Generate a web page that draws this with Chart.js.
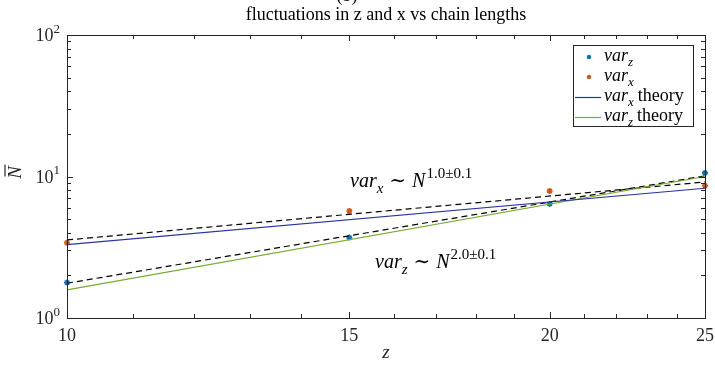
<!DOCTYPE html>
<html>
<head>
<meta charset="utf-8">
<script src="https://cdn.jsdelivr.net/npm/chart.js@4"></script>
<style>
  html, body { margin: 0; padding: 0; background: #fff; }
  #wrap { width: 715px; height: 367px; }
</style>
</head>
<body>
<div id="wrap"><canvas id="chart" width="715" height="367"></canvas></div>
<script>
/* ---- Data ---- */
const chainLengths = [10, 15, 20, 25];
const varZ = [1.78, 3.7, 6.4, 10.6];
const varX = [3.4, 5.7, 7.9, 8.6];

// theory curves and power-law fits (end points at N = 10 and N = 25)
const lineN = [10, 25];
const varXTheory = [3.3, 8.25];
const varZTheory = [1.58, 10.0];
const varXFit = [3.56, 9.15];
const varZFit = [1.76, 10.1];

const xMajorTicks = [10, 15, 20, 25];
const xMinorTicks = [11, 12, 13, 14, 16, 17, 18, 19, 21, 22, 23, 24];
const yMajorTicks = [1, 10, 100];
const yMajorExp = ['0', '1', '2'];
const yMinorTicks = [2, 3, 4, 5, 6, 7, 8, 9, 20, 30, 40, 50, 60, 70, 80, 90];

const BLUE = '#0072BD';
const ORANGE = '#D95319';
const NAVY = '#27359e';
const GREEN = '#77AC30';
const SERIF = '"Liberation Serif", "DejaVu Serif", serif';

const pts = (xs, ys) => xs.map((x, i) => ({ x, y: ys[i] }));

/* ---- Rich text: [text, kind] with kind = i | r | sub | sup | gap ---- */
function fontFor(k, size) {
  const small = Math.round(size * 0.74);
  if (k === 'i') return `italic ${size}px ${SERIF}`;
  if (k === 'sub') return `italic ${small}px ${SERIF}`;
  if (k === 'sup') return `${small}px ${SERIF}`;
  return `${size}px ${SERIF}`;
}
function richWidth(ctx, parts, size) {
  let w = 0;
  parts.forEach(([t, k]) => {
    if (k === 'gap') { w += t; return; }
    ctx.font = fontFor(k, size);
    w += ctx.measureText(t).width;
  });
  return w;
}
function drawRich(ctx, x, y, parts, size, color) {
  ctx.fillStyle = color || '#000';
  ctx.textBaseline = 'alphabetic';
  ctx.textAlign = 'left';
  parts.forEach(([t, k]) => {
    if (k === 'gap') { x += t; return; }
    ctx.font = fontFor(k, size);
    let dy = 0;
    if (k === 'sub') dy = size * 0.28;
    if (k === 'sup') dy = -size * 0.45;
    ctx.fillText(t, x, y + dy);
    x += ctx.measureText(t).width;
  });
  return x;
}

/* ---- Axes box, ticks, labels, legend, annotations ---- */
const matlabAxes = {
  id: 'matlabAxes',
  afterDraw(chart) {
    const { ctx, chartArea: a, scales: { x, y } } = chart;
    ctx.save();

    // box
    ctx.strokeStyle = '#262626';
    ctx.lineWidth = 1;
    ctx.strokeRect(a.left + 0.5, a.top + 0.5, a.right - a.left, a.bottom - a.top);

    // ticks (inward, top/bottom and left/right)
    const tick = (x1, y1, x2, y2) => {
      ctx.beginPath(); ctx.moveTo(x1, y1); ctx.lineTo(x2, y2); ctx.stroke();
    };
    const xt = (v, len) => {
      const px = Math.round(x.getPixelForValue(v)) + 0.5;
      tick(px, a.bottom, px, a.bottom - len);
      tick(px, a.top, px, a.top + len);
    };
    const yt = (v, len) => {
      const py = Math.round(y.getPixelForValue(v)) + 0.5;
      tick(a.left, py, a.left + len, py);
      tick(a.right, py, a.right - len, py);
    };
    xMajorTicks.forEach(v => xt(v, 6));
    xMinorTicks.forEach(v => xt(v, 4));
    yMajorTicks.forEach(v => yt(v, 6));
    yMinorTicks.forEach(v => yt(v, 4));

    // x tick labels
    ctx.fillStyle = '#262626';
    ctx.font = `18px ${SERIF}`;
    ctx.textAlign = 'center';
    ctx.textBaseline = 'alphabetic';
    xMajorTicks.forEach(v => ctx.fillText(String(v), x.getPixelForValue(v), a.bottom + 23));

    // y tick labels 10^n
    yMajorTicks.forEach((v, i) => {
      const parts = [['10', 'r'], [yMajorExp[i], 'sup']];
      const w = richWidth(ctx, parts, 18);
      drawRich(ctx, a.left - 7 - w, y.getPixelForValue(v) + 6, parts, 18, '#262626');
    });

    // axis titles
    ctx.fillStyle = '#262626';
    ctx.font = `italic 19px ${SERIF}`;
    ctx.textAlign = 'center';
    ctx.fillText('z', (a.left + a.right) / 2, a.bottom + 40);

    ctx.save();
    ctx.translate(21, (a.top + a.bottom) / 2 - 4);
    ctx.rotate(-Math.PI / 2);
    ctx.font = `italic 19px ${SERIF}`;
    ctx.fillText('N', 0, 0);
    ctx.lineWidth = 1.2;
    ctx.beginPath();
    ctx.moveTo(-4, -16); ctx.lineTo(8, -16);
    ctx.stroke();
    ctx.restore();

    // title and panel tag
    ctx.fillStyle = '#000';
    ctx.font = `18px ${SERIF}`;
    ctx.textAlign = 'center';
    ctx.fillText('fluctuations in z and x vs chain lengths', (a.left + a.right) / 2, 20);
    ctx.fillText('(b)', 347, 1);

    // exponent annotations
    const ann = 20;
    drawRich(ctx, 350, 187, [['var', 'i'], ['x', 'sub'], [6, 'gap'], ['\u223C', 'r'], [6, 'gap'], ['N', 'i'], [1, 'gap'], ['1.0\u00B10.1', 'sup']], ann, '#000');
    drawRich(ctx, 375, 268, [['var', 'i'], ['z', 'sub'], [6, 'gap'], ['\u223C', 'r'], [6, 'gap'], ['N', 'i'], [1, 'gap'], ['2.0\u00B10.1', 'sup']], ann, '#000');

    // legend
    const L = { left: 573, top: 45, right: 693, bottom: 126 };
    ctx.fillStyle = '#fff';
    ctx.fillRect(L.left, L.top, L.right - L.left, L.bottom - L.top);
    ctx.strokeStyle = '#262626';
    ctx.lineWidth = 1;
    ctx.strokeRect(L.left + 0.5, L.top + 0.5, L.right - L.left, L.bottom - L.top);
    const rows = [
      { y: 57, marker: BLUE, parts: [['var', 'i'], ['z', 'sub']] },
      { y: 77, marker: ORANGE, parts: [['var', 'i'], ['x', 'sub']] },
      { y: 97, line: NAVY, parts: [['var', 'i'], ['x', 'sub'], [4, 'gap'], ['theory', 'r']] },
      { y: 117, line: GREEN, parts: [['var', 'i'], ['z', 'sub'], [4, 'gap'], ['theory', 'r']] }
    ];
    rows.forEach(r => {
      if (r.marker) {
        ctx.fillStyle = r.marker;
        ctx.beginPath(); ctx.arc(589, r.y, 2.2, 0, Math.PI * 2); ctx.fill();
      } else {
        ctx.strokeStyle = r.line;
        ctx.lineWidth = 1.2;
        tick(575, r.y + 0.5, 601, r.y + 0.5);
      }
      drawRich(ctx, 604, r.y + 4, r.parts, 18, '#000');
    });

    ctx.restore();
  }
};

/* ---- Chart ---- */
const markerSet = (label, ys, color) => ({
  label,
  data: pts(chainLengths, ys),
  showLine: false,
  pointStyle: 'star',
  pointRadius: 3,
  borderWidth: 1.6,
  borderColor: color,
  backgroundColor: color,
  clip: false
});
const lineSet = (label, ys, color, dash) => ({
  label,
  data: pts(lineN, ys),
  showLine: true,
  pointRadius: 0,
  borderWidth: dash ? 1.2 : 1.1,
  borderColor: color,
  borderDash: dash || [],
  clip: false
});

new Chart(document.getElementById('chart').getContext('2d'), {
  type: 'scatter',
  data: {
    datasets: [
      lineSet('var_x theory', varXTheory, NAVY),
      lineSet('var_z theory', varZTheory, GREEN),
      lineSet('var_x fit', varXFit, '#000', [6, 4]),
      lineSet('var_z fit', varZFit, '#000', [6, 4]),
      markerSet('var_z', varZ, BLUE),
      markerSet('var_x', varX, ORANGE)
    ]
  },
  options: {
    responsive: false,
    devicePixelRatio: 1,
    animation: false,
    layout: { padding: { left: 67, right: 10, top: 35, bottom: 49 } },
    plugins: { legend: { display: false }, tooltip: { enabled: false } },
    scales: {
      x: { type: 'logarithmic', min: 10, max: 25, display: false },
      y: { type: 'logarithmic', min: 1, max: 100, display: false }
    }
  },
  plugins: [matlabAxes]
});
</script>
</body>
</html>
